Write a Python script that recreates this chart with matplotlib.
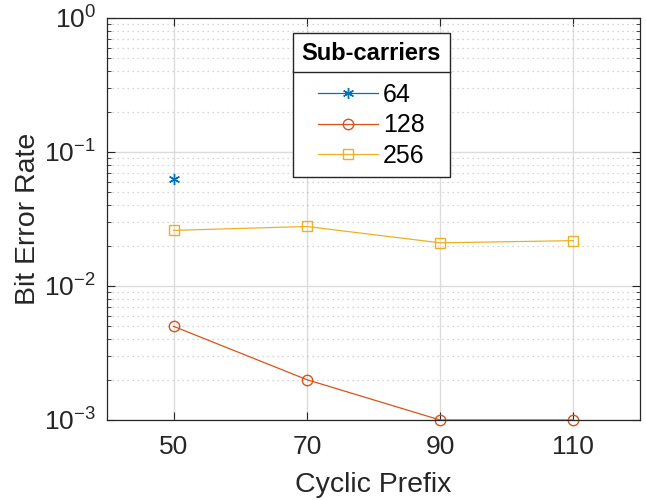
import numpy as np
import matplotlib
matplotlib.use("Agg")
import matplotlib.pyplot as plt
from matplotlib.lines import Line2D
from matplotlib.ticker import LogLocator, NullFormatter

plt.rcParams['font.family'] = ['Liberation Sans', 'DejaVu Sans']
plt.rcParams['mathtext.fontset'] = 'custom'
plt.rcParams['mathtext.rm'] = 'Liberation Sans'
plt.rcParams['mathtext.it'] = 'Liberation Sans'

cyclic_prefix = [50, 70, 90, 110]
ber_64 = [0.0625, 0, 0, 0]          # zero values are not shown on the log axis
ber_128 = [0.005, 0.002, 0.001, 0.001]
ber_256 = [0.026, 0.0278, 0.021, 0.0218]
labels = ['64', '128', '256']

fig = plt.figure(figsize=(6.46, 5), dpi=100)
ax = fig.add_axes([0.1656, 0.16, 0.825, 0.804])

def masked(v):
    v = np.array(v, dtype=float)
    return np.where(v > 0, v, np.nan)

ax.plot(cyclic_prefix, masked(ber_64), color='#0072BD', marker=(6, 2, 0), lw=0.9,
        ms=8, mew=1.0, label=labels[0])
ax.plot(cyclic_prefix, masked(ber_128), color='#D95319', marker='o', lw=0.9,
        ms=7.5, mfc='none', mew=1.0, label=labels[1], clip_on=False)
ax.plot(cyclic_prefix, masked(ber_256), color='#EDB120', marker='s', lw=0.9,
        ms=6.5, mfc='none', mew=1.0, label=labels[2])

ax.set_yscale('log')
ax.set_xlim(40, 120)
ax.set_ylim(1e-3, 1)
ax.set_xticks(cyclic_prefix)
ax.yaxis.set_major_locator(LogLocator(base=10, numticks=10))
ax.yaxis.set_minor_locator(LogLocator(base=10, subs=np.arange(2, 10), numticks=10))
ax.yaxis.set_minor_formatter(NullFormatter())

ax.grid(True, which='major', color='#dcdcdc', lw=1.0, ls='-')
ax.grid(True, which='minor', axis='y', color='#c8c8c8', lw=0.9, ls=(0, (1, 3)))
ax.set_axisbelow(True)

ax.tick_params(which='both', direction='in', top=True, right=True, labelsize=19,
               colors='#262626', labelcolor='#262626')
ax.tick_params(which='major', length=6, width=0.8, pad=8)
ax.tick_params(axis='x', which='major', pad=11)
ax.tick_params(which='minor', length=3, width=0.6)
for s in ax.spines.values():
    s.set_color('#262626')
    s.set_linewidth(0.9)

ax.set_xlabel('Cyclic Prefix', fontsize=20.5, color='#262626', labelpad=9)
ax.set_ylabel('Bit Error Rate', fontsize=20.5, color='#262626', labelpad=2)

leg = ax.legend(loc='upper center', bbox_to_anchor=(0.496, 0.963), fontsize=18,
                title='Sub-carriers', title_fontproperties={'weight': 'bold', 'size': 17},
                fancybox=False, edgecolor='#262626', framealpha=1,
                handlelength=2.4, handletextpad=0.2, labelspacing=0.27,
                borderpad=0.35, borderaxespad=0)
leg.get_frame().set_linewidth(1.0)
leg._legend_box.sep = 13
fig.canvas.draw()
bb = leg.get_window_extent().transformed(fig.transFigure.inverted())
title_bb = leg.get_title().get_window_extent().transformed(fig.transFigure.inverted())
ysep = title_bb.y0 - 0.014
fig.add_artist(Line2D([bb.x0, bb.x1], [ysep, ysep], color='#262626', lw=1.0,
                      transform=fig.transFigure))

fig.savefig('out.png', dpi=100)
